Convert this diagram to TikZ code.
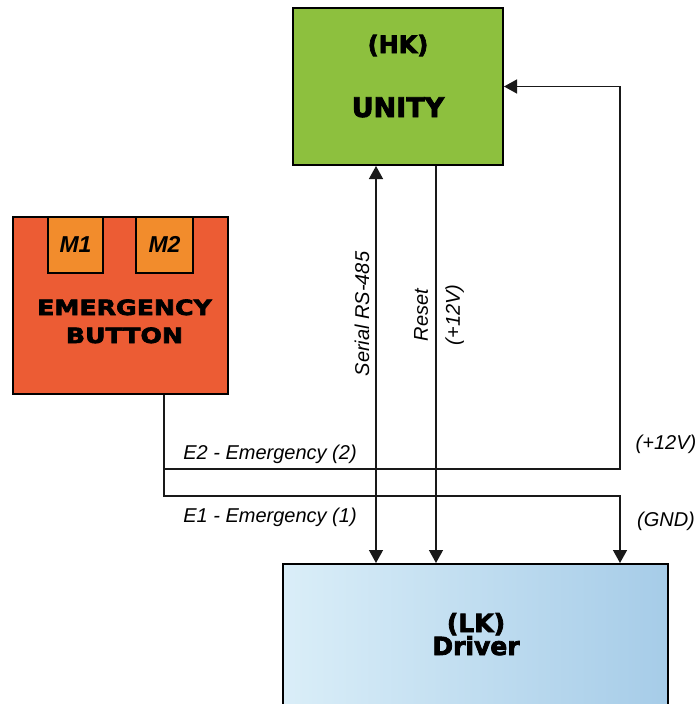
\documentclass[tikz,border=0pt]{standalone}
\usepackage{fontspec}
\setmainfont{Liberation Sans}
\newfontfamily\blackfont{DejaVu Sans}[BoldFeatures={FakeBold=3}]
\newfontfamily\blackwide{DejaVu Sans}[BoldFeatures={FakeBold=3, FakeStretch=1.2}]
\usetikzlibrary{arrows.meta}
\definecolor{hkgreen}{RGB}{141,192,62}
\definecolor{btnred}{RGB}{236,92,52}
\definecolor{modorange}{RGB}{242,140,44}
\definecolor{lkleft}{RGB}{218,238,248}
\definecolor{lkright}{RGB}{166,204,232}

\begin{document}
\begin{tikzpicture}[x=1pt, y=-1pt,
    box/.style={draw=black, line width=2pt, inner sep=0pt},
    wire/.style={draw=black!90, line width=1.4pt},
    head/.style={-{Triangle[length=13pt, width=14pt]}},
    lbl/.style={font=\fontsize{20}{24}\selectfont\itshape, inner sep=0pt},
    title/.style={font=\blackfont\bfseries\fontsize{#1}{#1}\selectfont, inner sep=0pt, anchor=base}]
    \useasboundingbox (0,0) rectangle (699,704);
    \clip (0,0) rectangle (699,704);
    % Blocks: HK on top, emergency button on the left, LK driver below
    \node[box, fill=hkgreen, minimum width=210pt, minimum height=157pt] (hk) at (398,86.5) {};
    \node[box, fill=btnred, minimum width=215pt, minimum height=177pt] (emg) at (120.5,305.5) {};
    \node[box, line width=1.6pt, fill=modorange, minimum width=55pt, minimum height=56pt] (m1) at (75.5,245) {};
    \node[box, line width=1.6pt, fill=modorange, minimum width=57pt, minimum height=56pt] (m2) at (164.5,245) {};
    \node[box, left color=lkleft, right color=lkright, minimum width=385pt, minimum height=146pt] (drv) at (475.5,637) {};
    % Block titles
    \node[title=24] (hkid)   at (398,53)    {(HK)};
    \node[title=27] (hkname) at (398,117)   {UNITY};
    \node[title=21, font=\blackwide\bfseries\fontsize{21}{21}\selectfont] (emgtop) at (124.5,315) {EMERGENCY};
    \node[title=21, font=\blackwide\bfseries\fontsize{21}{21}\selectfont] (emgbot) at (124.5,343) {BUTTON};
    \node[title=23, font=\bfseries\itshape\fontsize{23}{23}\selectfont] (m1txt) at (75.5,252)  {M1};
    \node[title=23, font=\bfseries\itshape\fontsize{23}{23}\selectfont] (m2txt) at (164.5,252) {M2};
    \node[title=25] (lkid)   at (476,632)   {(LK)};
    \node[title=25] (lkname) at (476,655)   {Driver};
    % Wire positions
    \coordinate (sx) at (376,0);
    \coordinate (rx) at (436,0);
    \coordinate (tap) at (164,0);
    \coordinate (e2) at (620,469);
    \coordinate (e1) at (620,496);
    % HK <-> LK lines
    \draw[wire, {Triangle[length=13pt, width=14pt]}-{Triangle[length=13pt, width=14pt]}] (hk.south -| sx) -- (drv.north -| sx);
    \draw[wire, head] (hk.south -| rx) -- (drv.north -| rx);
    % Emergency lines
    \draw[wire, head] (emg.south -| tap) |- (e1) -- (drv.north -| e1);
    \draw[wire, head] (tap |- e2) -- (e2) |- (hk.east);
    % Line labels
    \node[lbl, rotate=90] (serial) at (362,314) {Serial RS-485};
    \node[lbl, rotate=90, align=center, font=\fontsize{20}{32}\selectfont\itshape] (reset) at (439,315) {Reset\\(+12V)};
    \node[lbl, anchor=base] (e2txt)  at (270,459) {E2 - Emergency (2)};
    \node[lbl, anchor=base] (e1txt)  at (270,522) {E1 - Emergency (1)};
    \node[lbl, anchor=base] (vtxt)   at (666,449) {(+12V)};
    \node[lbl, anchor=base] (gndtxt) at (666,526) {(GND)};
\end{tikzpicture}
\end{document}
